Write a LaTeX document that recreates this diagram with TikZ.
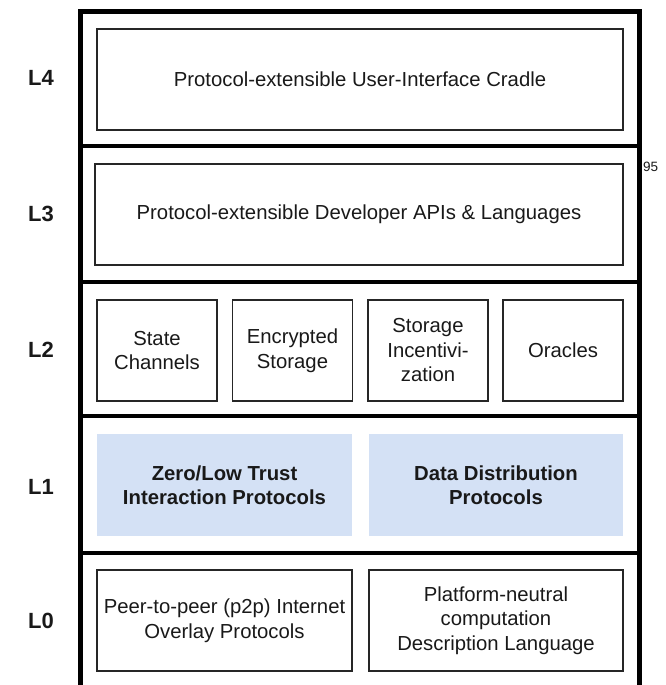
\documentclass[tikz,border=0pt]{standalone}
\usepackage{fontspec}
\setmainfont{Liberation Sans}
\usepackage{tikz}
\usetikzlibrary{positioning}
\definecolor{trustblue}{HTML}{D4E1F5}

\begin{document}
\begin{tikzpicture}[x=1pt, y=-1pt,
        layerbox/.style={rectangle, draw=black!85, line width=1.5pt, minimum height=101pt, align=center, text=black!90, font=\fontsize{20.3}{24.5}\selectfont},
        trustbox/.style={rectangle, fill=trustblue, minimum height=102pt, align=center, text=black!90, font=\bfseries\fontsize{20.3}{24.5}\selectfont},
        levelnode/.style={font=\bfseries\fontsize{22}{24}\selectfont, text=black!90}]
        \useasboundingbox (0, 0) rectangle (666, 685);
        % outer frame and layer separators
        \draw[line width=5pt] (80, 685) -- (80, 12) -- (639, 12) -- (639, 685);
        \foreach \y in {146, 282, 416, 553}
            \draw[line width=4pt] (80, \y) -- (639, \y);
        % level labels
        \node [levelnode] at (41, 78)  (l4) {L4};
        \node [levelnode] at (41, 214) (l3) {L3};
        \node [levelnode] at (41, 350) (l2) {L2};
        \node [levelnode] at (41, 487) (l1) {L1};
        \node [levelnode] at (41, 621) (l0) {L0};
        % L4, L3
        \node [layerbox, minimum width=526pt] at (360, 79.5)  (ui)  {Protocol-extensible User-Interface Cradle};
        \node [layerbox, minimum width=528pt] at (359, 214.5) (api) {Protocol-extensible Developer APIs \& Languages};
        % L2
        \node [layerbox, minimum width=120pt] at (157, 350.5)   (sc) {State\\Channels};
        \node [layerbox, minimum width=120pt] at (292.5, 350.5) (es) {Encrypted\\Storage};
        \node [layerbox, minimum width=120pt] at (428, 350.5)   (si) {Storage\\Incentivi-\\zation};
        \node [layerbox, minimum width=120pt] at (563, 350.5)   (or) {Oracles};
        % L1
        \node [trustbox, minimum width=255pt] at (224.5, 485) (zt) {Zero/Low Trust\\Interaction Protocols};
        \node [trustbox, minimum width=254pt] at (496, 485)   (dd) {Data Distribution\\Protocols};
        % L0
        \node [layerbox, minimum width=255pt] at (224.5, 620.5) (pp) {Peer-to-peer (p2p) Internet\\Overlay Protocols};
        \node [layerbox, minimum width=254pt] at (496, 620.5)   (pn) {Platform-neutral\\computation\\Description Language};
        \node [font=\fontsize{13.5}{15}\selectfont, text=black!90] at (650.5, 167) (pg) {95};
    \end{tikzpicture}
\end{document}
